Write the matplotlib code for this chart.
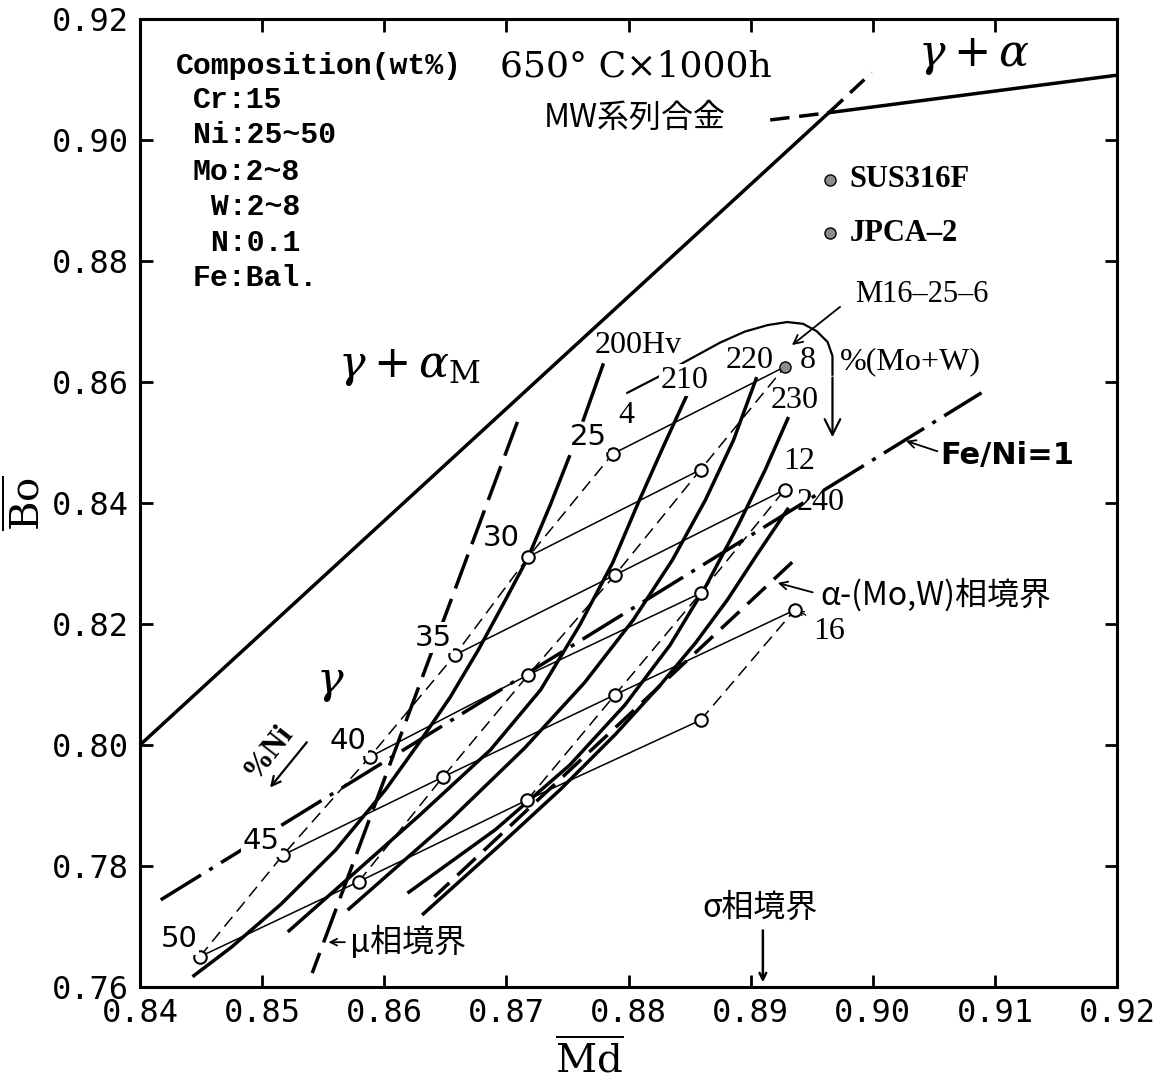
import matplotlib
matplotlib.use("Agg")
import matplotlib.pyplot as plt

plt.rcParams['lines.scale_dashes'] = False
plt.rcParams['mathtext.fontset'] = 'dejavuserif'

# Ni content (wt%) of the grid alloys, high Ni at bottom left
ni_levels = [50, 45, 40, 35, 30, 25]

# grid points (Md, Bo) for each Mo+W level, ordered by ni_levels
md_4 = [0.8449, 0.8517, 0.8588, 0.8658, 0.8718, 0.8787]
bo_4 = [0.7650, 0.7818, 0.7980, 0.8149, 0.8311, 0.8481]
md_8 = [0.8579, 0.8648, 0.8718, 0.8789, 0.8859, 0.8928]
bo_8 = [0.7774, 0.7947, 0.8116, 0.8281, 0.8455, 0.8625]
md_12 = [0.8717, 0.8789, 0.8859, 0.8928]
bo_12 = [0.7909, 0.8083, 0.8251, 0.8422]
md_16 = [0.8859, 0.8936]
bo_16 = [0.8041, 0.8223]

# iso-hardness curves (Hv)
hv200_top_md = [0.8779, 0.8763]
hv200_top_bo = [0.8628, 0.8537]
hv200_md = [0.8752, 0.8736, 0.8718, 0.8698, 0.8677, 0.8654, 0.8629, 0.8601,
            0.8560, 0.8515, 0.8475, 0.8443]
hv200_bo = [0.8479, 0.8397, 0.8311, 0.8235, 0.8157, 0.8079, 0.8005, 0.7926,
            0.7826, 0.7736, 0.7666, 0.7617]
hv210_md = [0.8848, 0.8828, 0.8809, 0.8787, 0.8760, 0.8728, 0.8687, 0.8629,
            0.8572, 0.8521]
hv210_bo = [0.8579, 0.8491, 0.8405, 0.8301, 0.8198, 0.8091, 0.7992, 0.7884,
            0.7782, 0.7691]
hv220_md = [0.8905, 0.8886, 0.8863, 0.8836, 0.8804, 0.8764, 0.8715, 0.8654, 0.8570]
hv220_bo = [0.8608, 0.8504, 0.8405, 0.8306, 0.8207, 0.8103, 0.7995, 0.7876, 0.7727]
hv230_md = [0.8931, 0.8912, 0.8890, 0.8864, 0.8834, 0.8797, 0.8752, 0.8691, 0.8619]
hv230_bo = [0.8542, 0.8455, 0.8364, 0.8265, 0.8165, 0.8066, 0.7967, 0.7860, 0.7755]
hv240_md = [0.8931, 0.8905, 0.8881, 0.8855, 0.8826, 0.8789, 0.8744, 0.8695, 0.8631]
hv240_bo = [0.8392, 0.8314, 0.8240, 0.8169, 0.8099, 0.8017, 0.7926, 0.7835, 0.7719]

# phase boundaries
g_gam_md = [0.8400, 0.8964]
g_gam_bo = [0.8000, 0.9045]
ga_md = [0.8964, 0.9200]
ga_bo = [0.9045, 0.9107]
ga_ext_md = [0.8916, 0.8964]
ga_ext_bo = [0.9033, 0.9045]
gam_ext_md = [0.8964, 0.8999]
gam_ext_bo = [0.9045, 0.9111]
feni_md = [0.8417, 0.9089]
feni_bo = [0.7744, 0.8582]
mu_md = [0.8709, 0.8541]
mu_bo = [0.8534, 0.7623]
amw_md = [0.8934, 0.8641]
amw_bo = [0.8302, 0.7749]

# curved arrow showing increasing %(Mo+W)
arc_md = [0.8799, 0.8823, 0.8846, 0.8875, 0.8895, 0.8914, 0.8930, 0.8943, 0.8954,
          0.8963, 0.8967, 0.8967, 0.8967]
arc_bo = [0.8582, 0.8607, 0.8633, 0.8665, 0.8683, 0.8694, 0.8699, 0.8696, 0.8684,
          0.8666, 0.8643, 0.8612, 0.8504]

xticks = [0.84, 0.85, 0.86, 0.87, 0.88, 0.89, 0.90, 0.91, 0.92]
yticks = [0.76, 0.78, 0.80, 0.82, 0.84, 0.86, 0.88, 0.90, 0.92]

CJK = ['Noto Sans CJK JP', 'DejaVu Sans']
SERIF = 'Liberation Serif'

fig = plt.figure(figsize=(11.62, 10.81), dpi=100)
ax = fig.add_axes([0.1205, 0.0870, 0.8408, 0.8955])
ax.set_xlim(0.84, 0.92)
ax.set_ylim(0.76, 0.92)

thick = 2.5
thin = 1.1

# boundaries
ax.plot(g_gam_md, g_gam_bo, 'k-', lw=thick)
ax.plot(ga_md, ga_bo, 'k-', lw=thick)
ax.plot(ga_ext_md, ga_ext_bo, 'k-', lw=thick, dashes=(14, 7))
ax.plot(gam_ext_md, gam_ext_bo, 'k-', lw=thick, dashes=(14, 7))
ax.plot(feni_md, feni_bo, 'k-', lw=thick, dashes=(34, 7, 3, 7))
ax.plot(mu_md, mu_bo, 'k-', lw=thick, dashes=(26, 8))
ax.plot(amw_md, amw_bo, 'k-', lw=thick, dashes=(18, 8))

# iso-hardness curves
ax.plot(hv200_top_md, hv200_top_bo, 'k-', lw=thick)
for md, bo in [(hv200_md, hv200_bo), (hv210_md, hv210_bo), (hv220_md, hv220_bo),
               (hv230_md, hv230_bo), (hv240_md, hv240_bo)]:
    ax.plot(md, bo, 'k-', lw=thick, solid_capstyle='butt', solid_joinstyle='round')

# grid: dashed = constant Mo+W, thin solid = constant Ni
series = [(md_4, bo_4), (md_8, bo_8), (md_12, bo_12), (md_16, bo_16)]
for md, bo in series:
    ax.plot(md, bo, 'k-', lw=thin, dashes=(9, 5))
for i in range(len(ni_levels)):
    xs = [md[i] for md, bo in series if i < len(md)]
    ys = [bo[i] for md, bo in series if i < len(bo)]
    ax.plot(xs, ys, 'k-', lw=thin)

for md, bo in series:
    pts = [(x, y) for x, y in zip(md, bo) if not (x == md_8[-1] and y == bo_8[-1])]
    ax.plot([p[0] for p in pts], [p[1] for p in pts], 'o', ms=9, mfc='white',
            mec='k', mew=1.5, zorder=5)
# M16-25-6
ax.plot(md_8[-1], bo_8[-1], 'o', ms=8, mfc='0.55', mec='k', mew=1.0, zorder=6)

# curved arrow %(Mo+W)
ax.plot(arc_md[:-1], arc_bo[:-1], 'k-', lw=1.6, solid_joinstyle='round')
ax.annotate('', xy=(arc_md[-1], arc_bo[-1]), xytext=(arc_md[-2], arc_bo[-2]),
            arrowprops=dict(arrowstyle='->', lw=1.6, color='k', mutation_scale=28))

# text labels
ax.text(0.8429, 0.9122, 'Composition(wt%)', family='Liberation Mono', weight='bold',
        fontsize=21.5, va='center', ha='left')
for txt, yy in [('Cr:15', 0.9066), ('Ni:25~50', 0.9008), ('Mo:2~8', 0.8947),
                (' W:2~8', 0.8889), (' N:0.1', 0.8830), ('Fe:Bal.', 0.8772)]:
    ax.text(0.8443, yy, txt, family='Liberation Mono', weight='bold', fontsize=21.5,
            va='center', ha='left')

ax.text(0.8806, 0.9122, '650° C×1000h', family='DejaVu Serif', fontsize=26,
        ha='center', va='center')
ax.text(0.8805, 0.9036, 'MW系列合金', family=CJK, fontsize=23, ha='center', va='center')
ax.text(0.9083, 0.9140, r'$\gamma+\alpha$', fontsize=32, ha='center', va='center')
ax.text(0.8621, 0.8625, r'$\gamma+\alpha_{\mathrm{M}}$', fontsize=32, ha='center', va='center')
ax.text(0.8556, 0.8104, r'$\gamma$', fontsize=32, ha='center', va='center')

ax.plot(0.8965, 0.8934, 'o', ms=8, mfc='0.55', mec='k', mew=1.0)
ax.text(0.8981, 0.8934, 'SUS316F', family=SERIF, weight='bold', fontsize=22, va='center')
ax.plot(0.8965, 0.8846, 'o', ms=8, mfc='0.55', mec='k', mew=1.0)
ax.text(0.8981, 0.8846, 'JPCA–2', family=SERIF, weight='bold', fontsize=22, va='center')

ax.text(0.9040, 0.8745, 'M16–25–6', family=SERIF, fontsize=22, ha='center', va='center')
ax.annotate('', xy=(0.8932, 0.8658), xytext=(0.8975, 0.8727),
            arrowprops=dict(arrowstyle='->', lw=1.3, color='k', mutation_scale=16))
ax.text(0.9031, 0.8633, '%(Mo+W)', family=SERIF, fontsize=23, ha='center', va='center')

wb = dict(facecolor='white', edgecolor='none', pad=1)
ax.text(0.8808, 0.8661, '200Hv', family=SERIF, fontsize=23, ha='center', va='center')
ax.text(0.8846, 0.8603, '210', family=SERIF, fontsize=23, ha='center', va='center',
        bbox=wb, zorder=7)
ax.text(0.8899, 0.8635, '220', family=SERIF, fontsize=23, ha='center', va='center')
ax.text(0.8947, 0.8635, '8', family=SERIF, fontsize=23, ha='center', va='center')
ax.text(0.8936, 0.8570, '230', family=SERIF, fontsize=23, ha='center', va='center')
ax.text(0.8957, 0.8400, '240', family=SERIF, fontsize=23, ha='center', va='center')
ax.text(0.8798, 0.8545, '4', family=SERIF, fontsize=23, ha='center', va='center')
ax.text(0.8940, 0.8468, '12', family=SERIF, fontsize=23, ha='center', va='center')
ax.text(0.8964, 0.8188, '16', family=SERIF, fontsize=23, ha='center', va='center')
ax.annotate('', xy=(0.8937, 0.8225), xytext=(0.8947, 0.8212),
            arrowprops=dict(arrowstyle='->', lw=1.0, color='k', mutation_scale=8))

for ni, (x, y) in zip(ni_levels, [(0.8432, 0.7679), (0.8499, 0.7841), (0.8570, 0.8007),
                                  (0.8640, 0.8177), (0.8696, 0.8342), (0.8767, 0.8509)]):
    ax.text(x, y, str(ni), family='DejaVu Sans', fontsize=21, ha='center', va='center',
            bbox=wb, zorder=7)

ax.text(0.9110, 0.8478, 'Fe/Ni=1', family='DejaVu Sans', weight='bold', fontsize=22,
        ha='center', va='center')
ax.annotate('', xy=(0.9025, 0.8504), xytext=(0.9055, 0.8484),
            arrowprops=dict(arrowstyle='->', lw=1.3, color='k', mutation_scale=14))
ax.text(0.8957, 0.8248, 'α-(Mo,W)相境界', family=CJK, fontsize=23, ha='left', va='center')
ax.annotate('', xy=(0.8920, 0.8269), xytext=(0.8953, 0.8251),
            arrowprops=dict(arrowstyle='->', lw=1.3, color='k', mutation_scale=14))
ax.text(0.8572, 0.7673, 'μ相境界', family=CJK, fontsize=23, ha='left', va='center')
ax.annotate('', xy=(0.8552, 0.7674), xytext=(0.8570, 0.7674),
            arrowprops=dict(arrowstyle='->', lw=1.3, color='k', mutation_scale=12))
ax.text(0.8908, 0.7731, 'σ相境界', family=CJK, fontsize=23, ha='center', va='center')
ax.annotate('', xy=(0.8910, 0.7603), xytext=(0.8910, 0.7698),
            arrowprops=dict(arrowstyle='->', lw=1.8, color='k', mutation_scale=12))

ax.text(0.8505, 0.7990, '%Ni', family=SERIF, weight='bold', fontsize=22, rotation=52,
        ha='center', va='center')
ax.annotate('', xy=(0.8505, 0.7926), xytext=(0.8538, 0.8008),
            arrowprops=dict(arrowstyle='->', lw=1.6, color='k', mutation_scale=16))

# axes styling
ax.set_xticks(xticks)
ax.set_yticks(yticks)
ax.set_xticklabels(['%.2f' % v for v in xticks])
ax.set_yticklabels(['%.2f' % v for v in yticks])
ax.tick_params(direction='in', length=9, width=2, top=True, right=True,
               labelsize=23, pad=8)
for lab in ax.get_xticklabels() + ax.get_yticklabels():
    lab.set_family('DejaVu Sans Mono')
for sp in ax.spines.values():
    sp.set_linewidth(2.2)

ax.set_xlabel(r'$\overline{\mathrm{Md}}$', fontsize=29, labelpad=4)
ax.xaxis.set_label_coords(0.46, -0.055)
ax.set_ylabel(r'$\overline{\mathrm{Bo}}$', fontsize=29, labelpad=2)

fig.savefig('out.png', dpi=100)
